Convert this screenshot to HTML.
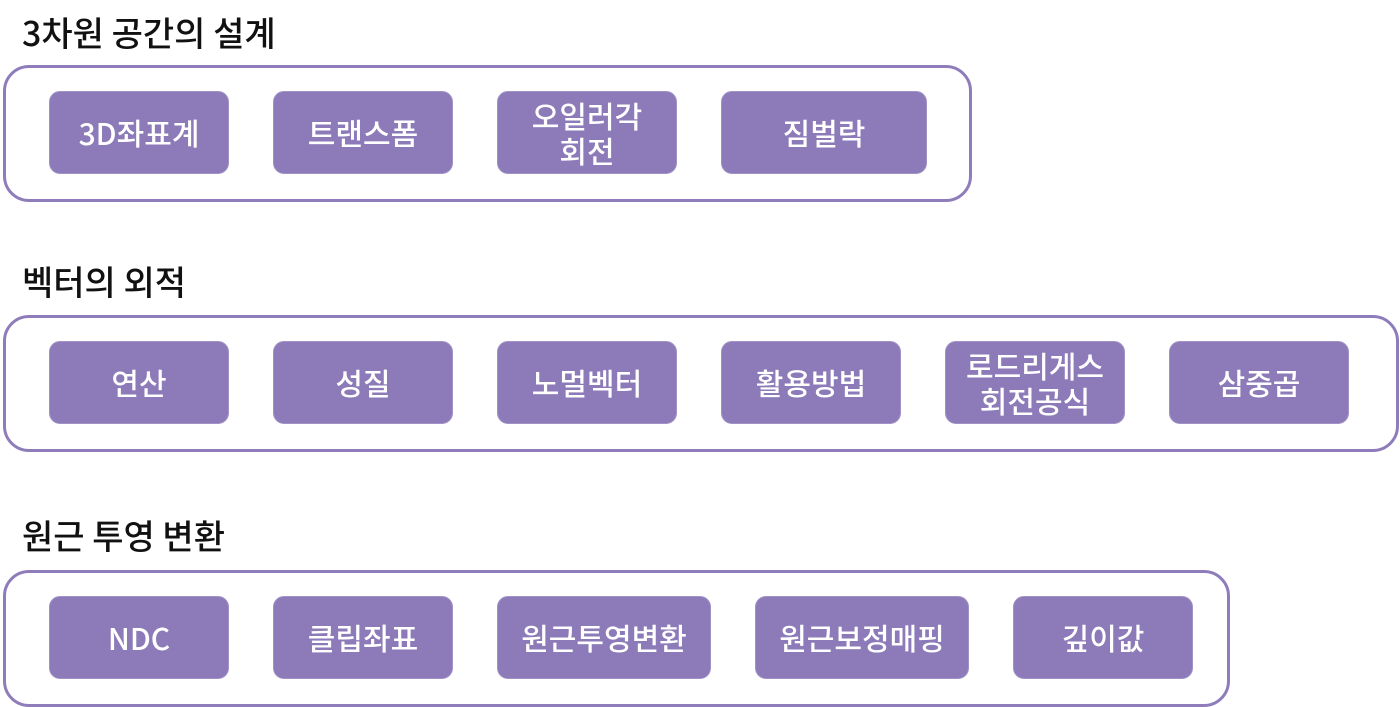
<!DOCTYPE html><html><head><meta charset="utf-8"><style>
body{margin:0;width:1400px;height:707px;background:#fff;position:relative;overflow:hidden;font-family:"Noto Sans CJK KR","Liberation Sans",sans-serif}
.t{position:absolute;left:22px;font-size:34px;color:#111;line-height:38px;font-weight:500}
.c{position:absolute;border:3px solid #8E7DBA;border-radius:26px;box-sizing:border-box;height:137px}
.b{position:absolute;background:#8C7BB8;border:1px solid #A092C6;border-radius:11px;box-sizing:border-box;height:83px;color:#fff;font-size:30px;display:flex;align-items:center;justify-content:center;text-align:center;line-height:35px;font-weight:500}
</style></head><body>
<div class="t" style="top:13px">3차원 공간의 설계</div>
<div class="c" style="left:3px;top:65px;width:969px"></div>
<div class="b" style="left:49px;top:91px;width:180px">3D좌표계</div>
<div class="b" style="left:273px;top:91px;width:180px">트랜스폼</div>
<div class="b" style="left:497px;top:91px;width:180px">오일러각<br>회전</div>
<div class="b" style="left:721px;top:91px;width:206px">짐벌락</div>
<div class="t" style="top:262px">벡터의 외적</div>
<div class="c" style="left:3px;top:315px;width:1396px"></div>
<div class="b" style="left:49px;top:341px;width:180px">연산</div>
<div class="b" style="left:273px;top:341px;width:180px">성질</div>
<div class="b" style="left:497px;top:341px;width:180px">노멀벡터</div>
<div class="b" style="left:721px;top:341px;width:180px">활용방법</div>
<div class="b" style="left:945px;top:341px;width:180px">로드리게스<br>회전공식</div>
<div class="b" style="left:1169px;top:341px;width:180px">삼중곱</div>
<div class="t" style="top:516px">원근 투영 변환</div>
<div class="c" style="left:3px;top:570px;width:1227px"></div>
<div class="b" style="left:49px;top:596px;width:180px">NDC</div>
<div class="b" style="left:273px;top:596px;width:180px">클립좌표</div>
<div class="b" style="left:497px;top:596px;width:214px">원근투영변환</div>
<div class="b" style="left:755px;top:596px;width:214px">원근보정매핑</div>
<div class="b" style="left:1013px;top:596px;width:180px">깊이값</div>
</body></html>
